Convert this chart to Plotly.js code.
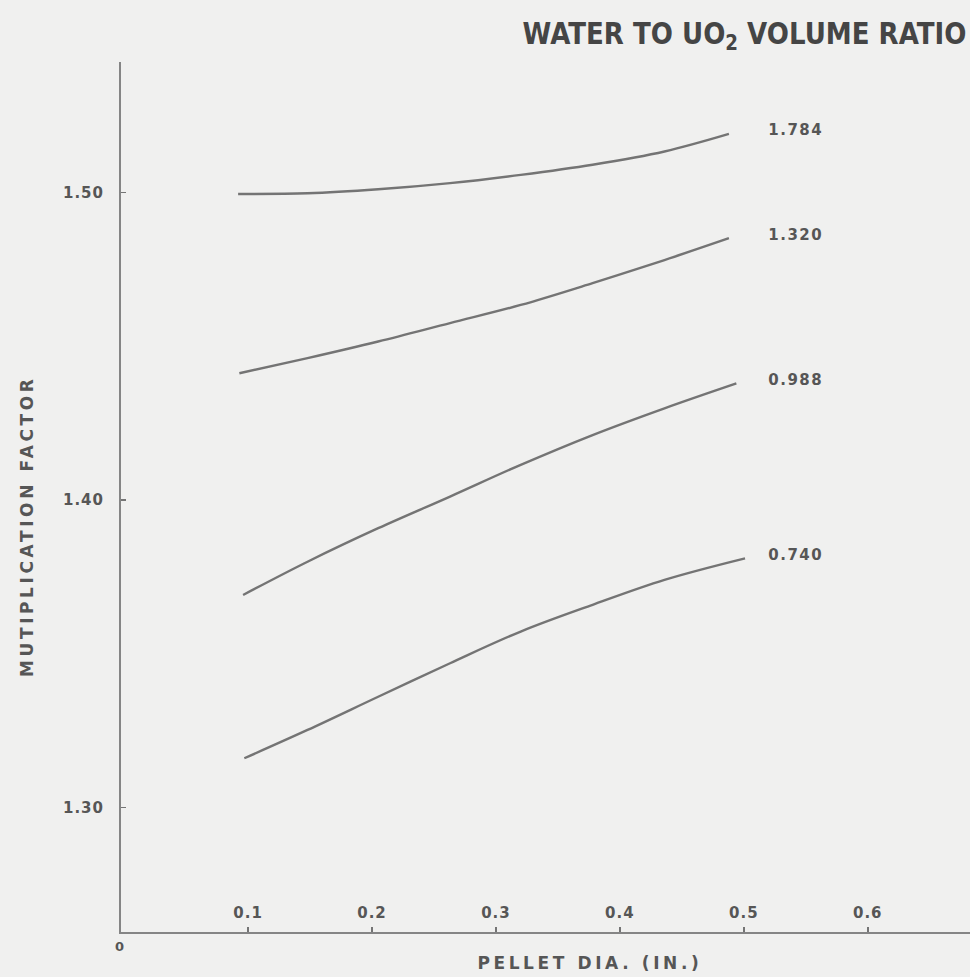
<!DOCTYPE html>
<html>
<head>
<meta charset="utf-8">
<script src="https://cdn.plot.ly/plotly-3.0.1.min.js"></script>
<style>
  html, body { margin: 0; padding: 0; background: #f0f0ef; }
  #chart { width: 970px; height: 977px; }
  /* plotter-style wide lettering */
  g.xtick text, g.ytick text { letter-spacing: 1px; }
  g.annotation text.annotation-text[style*="font-size: 15px"] { letter-spacing: 1.5px; }
  g.annotation text.annotation-text[style*="font-size: 17px"] { letter-spacing: 3.6px; }
</style>
</head>
<body>
<div id="chart"></div>
<script>
// Multiplication factor vs pellet diameter, one curve per water-to-UO2 volume ratio
const ratioLabels = ["1.784", "1.320", "0.988", "0.740"];

const dia_1784 = [0.092, 0.148, 0.205, 0.263, 0.320, 0.378, 0.436, 0.488];
const k_1784   = [1.4995, 1.4997, 1.5010, 1.5030, 1.5057, 1.5090, 1.5133, 1.5190];

const dia_1320 = [0.093, 0.148, 0.205, 0.263, 0.320, 0.378, 0.436, 0.488];
const k_1320   = [1.4412, 1.4461, 1.4515, 1.4575, 1.4634, 1.4705, 1.4780, 1.4851];

const dia_0988 = [0.096, 0.148, 0.205, 0.263, 0.320, 0.378, 0.436, 0.494];
const k_0988   = [1.3691, 1.3799, 1.3908, 1.4011, 1.4114, 1.4211, 1.4298, 1.4379];

const dia_0740 = [0.097, 0.148, 0.205, 0.263, 0.320, 0.378, 0.436, 0.501];
const k_0740   = [1.3160, 1.3252, 1.3360, 1.3469, 1.3572, 1.3659, 1.3740, 1.3810];

const xTickVals = [0.1, 0.2, 0.3, 0.4, 0.5, 0.6];
const xTickText = ["0.1", "0.2", "0.3", "0.4", "0.5", "0.6"];
const yTickVals = [1.30, 1.40, 1.50];
const yTickText = ["1.30", "1.40", "1.50"];

const seriesX = [dia_1784, dia_1320, dia_0988, dia_0740];
const seriesY = [k_1784, k_1320, k_0988, k_0740];

const ink = "#565656";
const lineInk = "#747474";
const face = "DejaVu Sans, Verdana, sans-serif";
const tickFont = { family: face, size: 15, color: ink, weight: 700 };
const titleFont = { family: face, size: 17, color: ink, weight: 700 };

const traces = seriesX.map((xs, i) => ({
  type: "scatter",
  mode: "lines",
  x: xs,
  y: seriesY[i],
  name: ratioLabels[i],
  line: { color: lineInk, width: 2.4, shape: "spline", smoothing: 1 },
  hoverinfo: "skip"
}));

// curve labels sit just right of each curve end
const labelAnns = seriesX.map((xs, i) => ({
  xref: "x", yref: "y",
  x: 0.521, y: seriesY[i][seriesY[i].length - 1] + 0.0012,
  xanchor: "left", yanchor: "middle",
  text: ratioLabels[i],
  showarrow: false,
  font: tickFont
}));

const headline = "WATER TO UO<sub>2</sub> VOLUME RATIO";
const headlineWidth = 444;

const layout = {
  width: 970,
  height: 977,
  margin: { l: 121, r: 0, t: 62, b: 45 },
  paper_bgcolor: "#f0f0ef",
  plot_bgcolor: "#f0f0ef",
  showlegend: false,
  xaxis: {
    range: [-0.0025, 0.6825],
    tickvals: xTickVals,
    ticktext: xTickText,
    ticks: "inside",
    ticklen: 5,
    tickwidth: 1.5,
    tickcolor: lineInk,
    ticklabelposition: "inside",
    ticklabelstandoff: 6,
    tickfont: tickFont,
    showline: true,
    linecolor: "#858585",
    linewidth: 2,
    showgrid: false,
    zeroline: false
  },
  yaxis: {
    range: [1.2595, 1.5424],
    tickvals: yTickVals,
    ticktext: yTickText,
    ticks: "inside",
    ticklen: 5,
    tickwidth: 1.5,
    tickcolor: lineInk,
    ticklabelstandoff: 12,
    tickfont: tickFont,
    showline: true,
    linecolor: "#858585",
    linewidth: 2,
    showgrid: false,
    zeroline: false
  },
  annotations: labelAnns.concat([
    {
      xref: "paper", yref: "paper", x: 0.7344, y: 1.031,
      xanchor: "center", yanchor: "middle",
      text: headline,
      showarrow: false,
      font: { family: face, size: 30, color: "#454545", weight: 700 }
    },
    {
      xref: "paper", yref: "paper", x: -0.1107, y: 0.4667,
      xanchor: "center", yanchor: "middle",
      textangle: -90,
      text: "MUTIPLICATION FACTOR",
      showarrow: false,
      font: titleFont
    },
    {
      xref: "paper", yref: "paper", x: 0.5524, y: -0.0356,
      xanchor: "center", yanchor: "middle",
      text: "PELLET DIA. (IN.)",
      showarrow: false,
      font: titleFont
    },
    {
      xref: "paper", yref: "paper", x: -0.0012, y: -0.0172,
      xanchor: "center", yanchor: "middle",
      text: "0",
      showarrow: false,
      font: { family: face, size: 13, color: ink, weight: 700 }
    }
  ])
};

Plotly.newPlot("chart", traces, layout, { staticPlot: true, displayModeBar: false }).then(gd => {
  // the headline is set in a narrow, condensed style: compress it horizontally about its centre
  gd.querySelectorAll("g.annotation text.annotation-text").forEach(t => {
    if (t.textContent.indexOf("VOLUME RATIO") !== -1) {
      const bb = t.getBBox();
      const s = headlineWidth / bb.width;
      const cx = bb.x + bb.width / 2;
      t.setAttribute("transform",
        "translate(" + cx + ",0) scale(" + s + ",1) translate(" + (-cx) + ",0)");
    }
  });
});
</script>
</body>
</html>
